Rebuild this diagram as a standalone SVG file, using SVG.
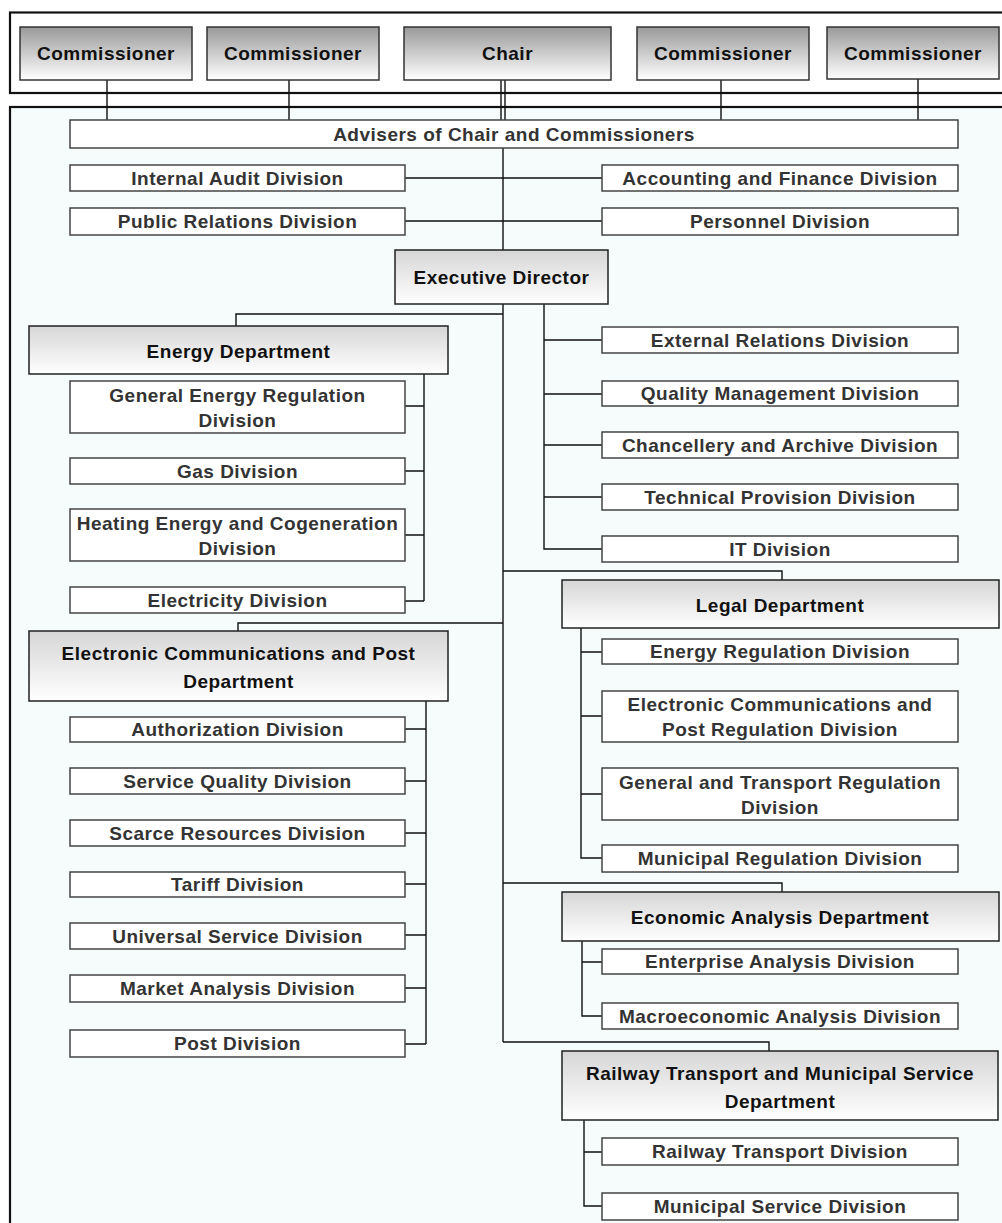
<svg xmlns="http://www.w3.org/2000/svg" width="1002" height="1223" viewBox="0 0 1002 1223">
<defs>
<linearGradient id="gTop" x1="0" y1="0" x2="0" y2="1"><stop offset="0" stop-color="#999999"/><stop offset="1" stop-color="#ffffff"/></linearGradient>
<linearGradient id="gDept" x1="0" y1="0" x2="0" y2="1"><stop offset="0" stop-color="#d6d6d6"/><stop offset="1" stop-color="#ffffff"/></linearGradient>
<style>
.frame{fill:none;stroke:#111;stroke-width:2.2}
.top rect{fill:url(#gTop);stroke:#333;stroke-width:1.5}
.dept rect{fill:url(#gDept);stroke:#222;stroke-width:1.5}
.div rect{fill:#ffffff;stroke:#444;stroke-width:1.5}
text{font-family:"Liberation Sans",Arial,sans-serif;font-weight:bold;font-size:19px;text-anchor:middle;letter-spacing:0.5px}
.top text,.dept text{fill:#111}
.div text{fill:#333}
#connectors path{fill:none;stroke:#111;stroke-width:1.4}
</style>
</defs>
<rect x="0" y="0" width="1002" height="1223" fill="#ffffff"/>
<rect class="frame" x="10" y="12.5" width="1010" height="80.5" fill="#ffffff"/>
<rect class="frame" x="10" y="107" width="1010" height="1130" style="fill:#f6fcfc"/>

<g id="connectors">
<path d="M107 80V120M289 80V120M505 80V120M501 80V120M721 80V120M918 79V120"/>
<path d="M503 148V1042"/>
<path d="M405 178H602M405 221H602"/>
<path d="M503 314H236V326"/>
<path d="M424 374V601M405 406H424M405 471H424M405 535H424M405 601H424"/>
<path d="M503 623H238V631"/>
<path d="M426 701V1044M405 729H426M405 781H426M405 833H426M405 884H426M405 935H426M405 988H426M405 1044H426"/>
<path d="M544 304V549H602M544 340H602M544 394H602M544 445H602M544 497H602"/>
<path d="M503 571H782V580"/>
<path d="M581 628V858H602M581 652H602M581 716H602M581 794H602"/>
<path d="M503 883H782V892"/>
<path d="M582 941V1016H602M582 962H602"/>
<path d="M503 1042H769V1051"/>
<path d="M584 1120V1206H602M584 1152H602"/>
</g>

<g id="commissioner1" class="top"><rect x="20" y="27" width="172" height="53"/><text x="106" y="60">Commissioner</text></g>
<g id="commissioner2" class="top"><rect x="207" y="27" width="172" height="53"/><text x="293" y="60">Commissioner</text></g>
<g id="chair" class="top"><rect x="404" y="27" width="207" height="53"/><text x="507.5" y="60">Chair</text></g>
<g id="commissioner3" class="top"><rect x="637" y="27" width="172" height="53"/><text x="723" y="60">Commissioner</text></g>
<g id="commissioner4" class="top"><rect x="827" y="27" width="172" height="52"/><text x="913" y="60">Commissioner</text></g>

<g id="advisers" class="div"><rect x="70" y="120" width="888" height="28"/><text x="514" y="141">Advisers of Chair and Commissioners</text></g>
<g id="internal-audit" class="div"><rect x="70" y="165" width="335" height="26"/><text x="237.5" y="185">Internal Audit Division</text></g>
<g id="accounting" class="div"><rect x="602" y="165" width="356" height="26"/><text x="780" y="185">Accounting and Finance Division</text></g>
<g id="public-relations" class="div"><rect x="70" y="208" width="335" height="27"/><text x="237.5" y="228">Public Relations Division</text></g>
<g id="personnel" class="div"><rect x="602" y="208" width="356" height="27"/><text x="780" y="228">Personnel Division</text></g>

<g id="executive-director" class="dept"><rect x="395" y="250" width="213" height="54"/><text x="501.5" y="284">Executive Director</text></g>

<g id="energy-dept" class="dept"><rect x="29" y="326" width="419" height="48"/><text x="238.5" y="358">Energy Department</text></g>
<g id="general-energy" class="div"><rect x="70" y="381" width="335" height="52"/><text x="237.5" y="402">General Energy Regulation</text><text x="237.5" y="427">Division</text></g>
<g id="gas" class="div"><rect x="70" y="458" width="335" height="26"/><text x="237.5" y="478">Gas Division</text></g>
<g id="heating" class="div"><rect x="70" y="509" width="335" height="52"/><text x="237.5" y="530">Heating Energy and Cogeneration</text><text x="237.5" y="555">Division</text></g>
<g id="electricity" class="div"><rect x="70" y="587" width="335" height="26"/><text x="237.5" y="607">Electricity Division</text></g>

<g id="ecp-dept" class="dept"><rect x="29" y="631" width="419" height="70"/><text x="238.5" y="660">Electronic Communications and Post</text><text x="238.5" y="688">Department</text></g>
<g id="authorization" class="div"><rect x="70" y="717" width="335" height="25"/><text x="237.5" y="736">Authorization Division</text></g>
<g id="service-quality" class="div"><rect x="70" y="768" width="335" height="26"/><text x="237.5" y="788">Service Quality Division</text></g>
<g id="scarce-resources" class="div"><rect x="70" y="820" width="335" height="26"/><text x="237.5" y="840">Scarce Resources Division</text></g>
<g id="tariff" class="div"><rect x="70" y="872" width="335" height="25"/><text x="237.5" y="891">Tariff Division</text></g>
<g id="universal-service" class="div"><rect x="70" y="923" width="335" height="26"/><text x="237.5" y="943">Universal Service Division</text></g>
<g id="market-analysis" class="div"><rect x="70" y="975" width="335" height="27"/><text x="237.5" y="995">Market Analysis Division</text></g>
<g id="post" class="div"><rect x="70" y="1030" width="335" height="27"/><text x="237.5" y="1050">Post Division</text></g>

<g id="external-relations" class="div"><rect x="602" y="327" width="356" height="26"/><text x="780" y="347">External Relations Division</text></g>
<g id="quality-management" class="div"><rect x="602" y="381" width="356" height="25"/><text x="780" y="400">Quality Management Division</text></g>
<g id="chancellery" class="div"><rect x="602" y="432" width="356" height="26"/><text x="780" y="452">Chancellery and Archive Division</text></g>
<g id="technical-provision" class="div"><rect x="602" y="484" width="356" height="26"/><text x="780" y="504">Technical Provision Division</text></g>
<g id="it" class="div"><rect x="602" y="536" width="356" height="26"/><text x="780" y="556">IT Division</text></g>

<g id="legal-dept" class="dept"><rect x="562" y="580" width="437" height="48"/><text x="780" y="612">Legal Department</text></g>
<g id="energy-regulation" class="div"><rect x="602" y="639" width="356" height="25"/><text x="780" y="658">Energy Regulation Division</text></g>
<g id="ecp-regulation" class="div"><rect x="602" y="691" width="356" height="51"/><text x="780" y="711">Electronic Communications and</text><text x="780" y="736">Post Regulation Division</text></g>
<g id="general-transport" class="div"><rect x="602" y="768" width="356" height="52"/><text x="780" y="789">General and Transport Regulation</text><text x="780" y="814">Division</text></g>
<g id="municipal-regulation" class="div"><rect x="602" y="845" width="356" height="27"/><text x="780" y="865">Municipal Regulation Division</text></g>

<g id="economic-dept" class="dept"><rect x="562" y="892" width="437" height="49"/><text x="780" y="924">Economic Analysis Department</text></g>
<g id="enterprise-analysis" class="div"><rect x="602" y="949" width="356" height="25"/><text x="780" y="968">Enterprise Analysis Division</text></g>
<g id="macroeconomic-analysis" class="div"><rect x="602" y="1003" width="356" height="26"/><text x="780" y="1023">Macroeconomic Analysis Division</text></g>

<g id="railway-dept" class="dept"><rect x="562" y="1051" width="436" height="69"/><text x="780" y="1080">Railway Transport and Municipal Service</text><text x="780" y="1108">Department</text></g>
<g id="railway-transport" class="div"><rect x="602" y="1138" width="356" height="27"/><text x="780" y="1158">Railway Transport Division</text></g>
<g id="municipal-service" class="div"><rect x="602" y="1193" width="356" height="27"/><text x="780" y="1213">Municipal Service Division</text></g>
</svg>
